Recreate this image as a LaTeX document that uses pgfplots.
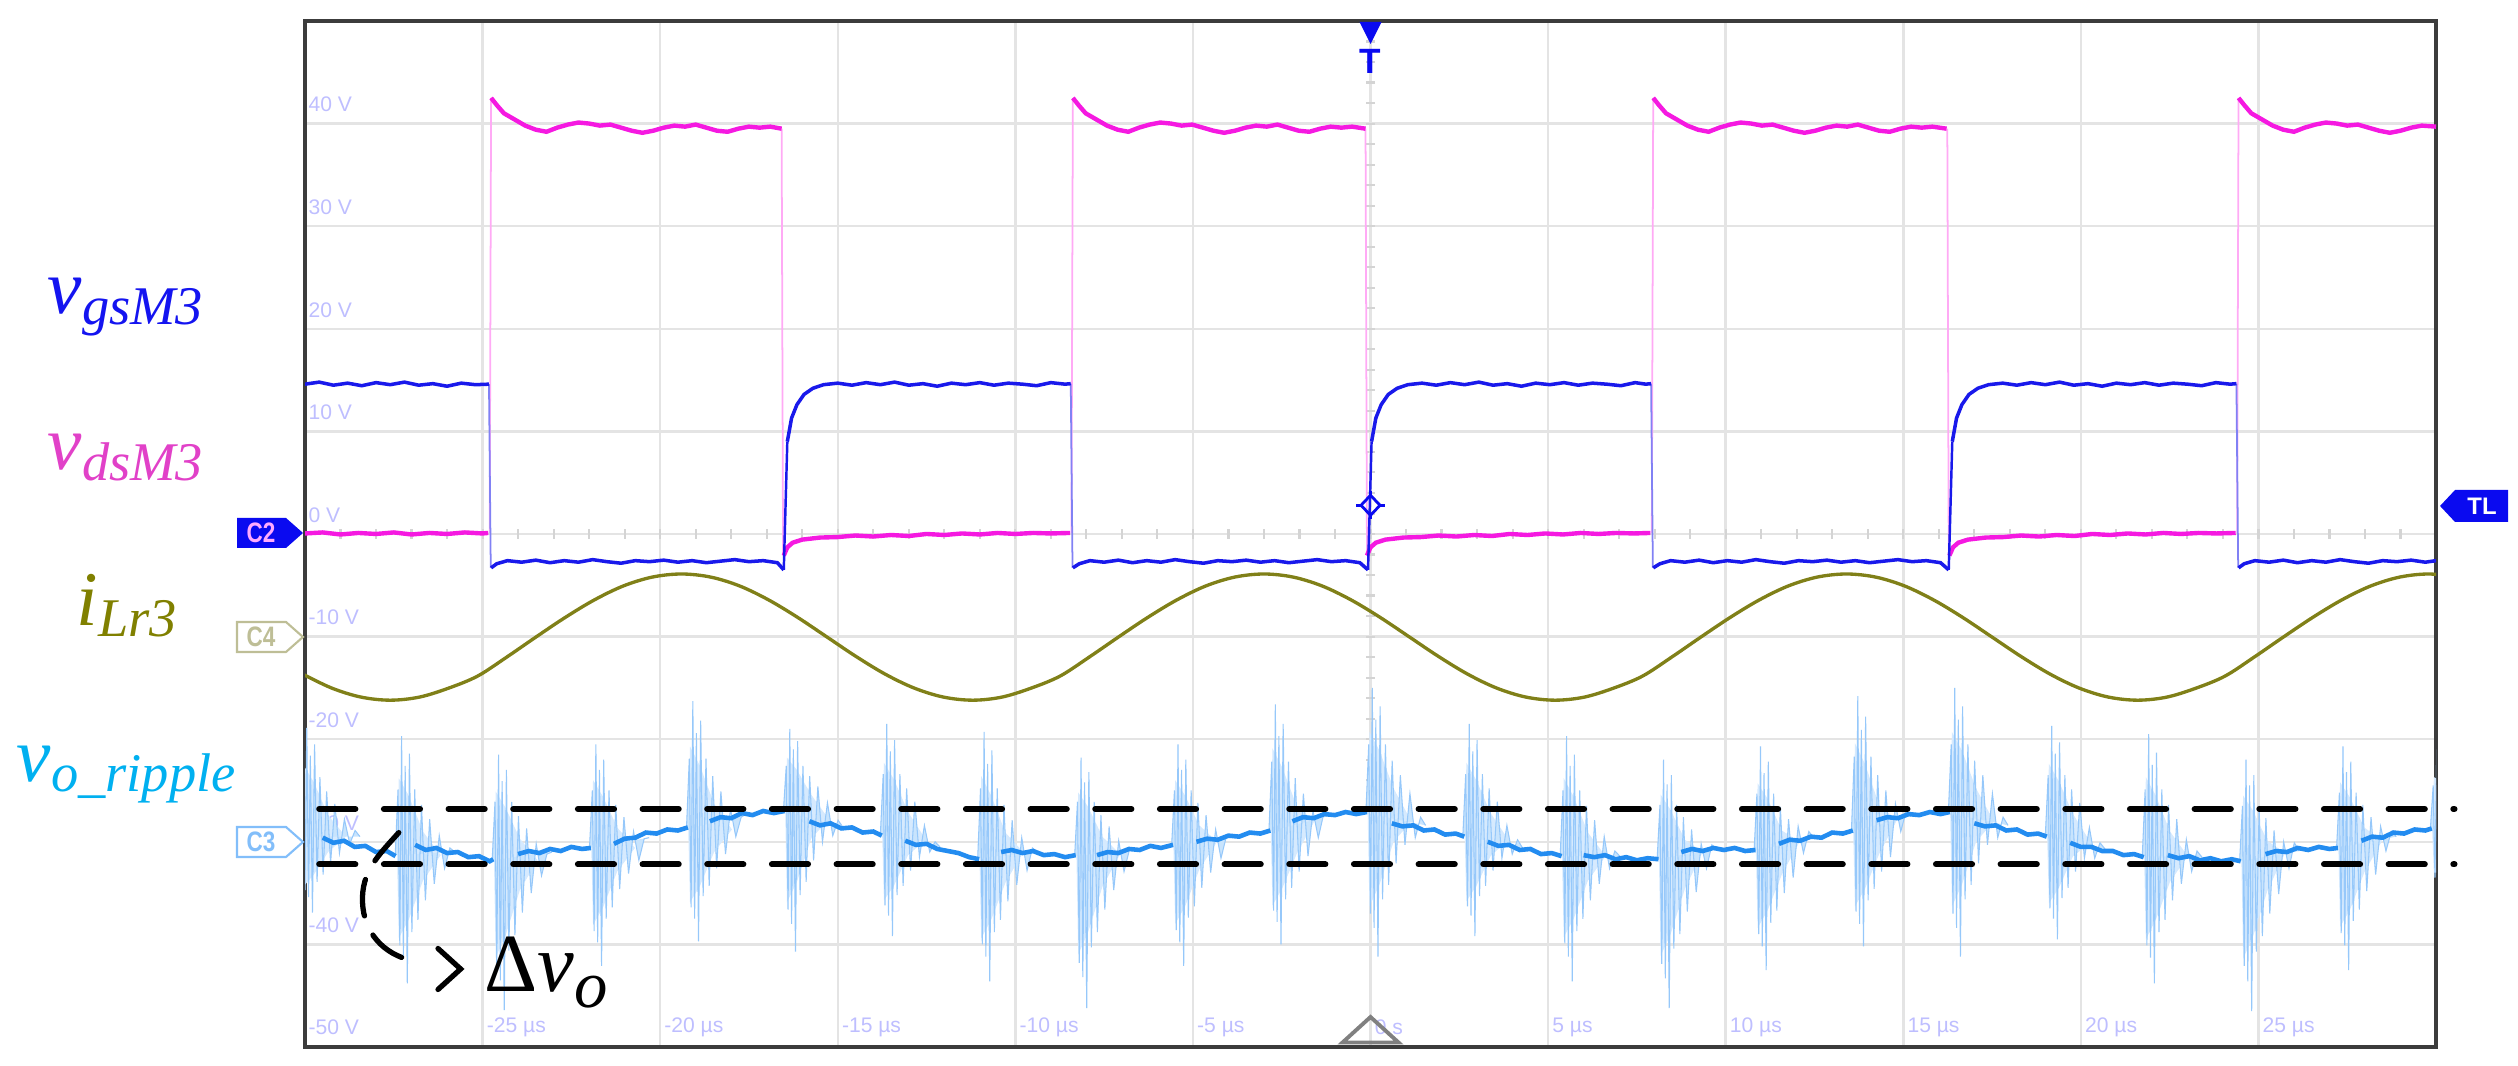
\documentclass[border=0pt]{standalone}
\usepackage{fontspec}
\setmainfont{Liberation Serif}
\newfontfamily\timesfont{Liberation Serif}
\newfontfamily\scopesans{Liberation Sans}
\usepackage{pgfplots}
\pgfplotsset{compat=1.18}
\usetikzlibrary{arrows.meta}
\definecolor{trblue}{RGB}{25,25,235}
\definecolor{trpink}{RGB}{245,25,225}
\definecolor{pinkedge}{RGB}{255,170,245}
\definecolor{trolive}{RGB}{128,128,24}
\definecolor{trcyan}{RGB}{35,140,240}
\definecolor{trcyanlt}{RGB}{150,200,250}
\definecolor{trcyanfill}{RGB}{200,228,253}
\definecolor{trcyanenv}{RGB}{214,234,254}
\definecolor{gridgray}{RGB}{228,228,228}
\definecolor{tickgray}{RGB}{212,212,212}
\definecolor{framegray}{RGB}{60,60,60}
\definecolor{labgray}{RGB}{190,190,255}
\definecolor{labblue}{RGB}{20,20,240}
\definecolor{labpink}{RGB}{225,65,200}
\definecolor{labolive}{RGB}{128,128,0}
\definecolor{labcyan}{RGB}{0,176,240}
\definecolor{markblue}{RGB}{10,10,240}
\definecolor{cfourcol}{RGB}{190,190,150}
\definecolor{cthreecol}{RGB}{130,190,250}
\definecolor{trigray}{RGB}{128,128,128}
\tikzset{
  slab/.style={anchor=west, inner sep=0pt, text=labgray, font=\scopesans\fontsize{6}{7}\selectfont},
  burst/.style={draw=trcyanlt, fill=trcyanfill, line width=0.3pt},
  env/.style={draw=none, fill=trcyanenv},
}
\begin{document}
\begin{tikzpicture}
\path[use as bounding box] (-3.05,-0.19) rectangle (22.13,10.47);
\begin{axis}[
  at={(0,0)}, anchor=south west, scale only axis,
  width=21.31cm, height=10.26cm,
  xmin=-30, xmax=30, ymin=-50, ymax=50,
  xtick={-30,-25,...,30}, ytick={-50,-40,...,50},
  xticklabels={}, yticklabels={},
  tick style={draw=none},
  grid=major,
  major grid style={line width=0.7pt, draw=gridgray},
  axis line style={line width=0.9pt, draw=framegray},
  unbounded coords=jump,
  clip mode=individual,
]
% centre-line ticks
\pgfplotsinvokeforeach{-29,...,29}{\draw[tickgray, line width=0.6pt] (axis cs:#1,-0.45) -- (axis cs:#1,0.45);}
\pgfplotsinvokeforeach{-24,-22,...,48}{\draw[tickgray, line width=0.6pt] (axis cs:-0.12,#1) -- (axis cs:0.12,#1);}
% scope labels
\node[slab] at (axis cs:-29.92,41.85) {40 V};
\node[slab] at (axis cs:-29.92,31.85) {30 V};
\node[slab] at (axis cs:-29.92,21.85) {20 V};
\node[slab] at (axis cs:-29.92,11.85) {10 V};
\node[slab] at (axis cs:-29.92,1.85) {0 V};
\node[slab] at (axis cs:-29.92,-8.15) {-10 V};
\node[slab] at (axis cs:-29.92,-18.15) {-20 V};
\node[slab] at (axis cs:-29.92,-28.15) {-30 V};
\node[slab] at (axis cs:-29.92,-38.15) {-40 V};
\node[slab] at (axis cs:-29.92,-48.05) {-50 V};
\node[slab] at (axis cs:-24.9,-48.05) {-25 µs};
\node[slab] at (axis cs:-19.9,-48.05) {-20 µs};
\node[slab] at (axis cs:-14.9,-48.05) {-15 µs};
\node[slab] at (axis cs:-9.9,-48.05) {-10 µs};
\node[slab] at (axis cs:-4.9,-48.05) {-5 µs};
\node[slab] at (axis cs:0.1,-48.05) {0 s};
\node[slab] at (axis cs:5.1,-48.05) {5 µs};
\node[slab] at (axis cs:10.1,-48.05) {10 µs};
\node[slab] at (axis cs:15.1,-48.05) {15 µs};
\node[slab] at (axis cs:20.1,-48.05) {20 µs};
\node[slab] at (axis cs:25.1,-48.05) {25 µs};

% ---------- C3: dense core of each ringing burst ----------
\addplot[env] coordinates {(-30.08,-29.5) (-30.03,-22.6) (-29.75,-24.2) (-29.35,-27.4) (-28.85,-29.5) (-29.35,-31.0) (-29.75,-33.2) (-30.03,-34.3)};
\addplot[env] coordinates {(-27.41,-31.3) (-27.36,-23.8) (-27.08,-25.5) (-26.68,-29.0) (-26.18,-31.3) (-26.68,-33.8) (-27.08,-37.6) (-27.36,-39.4)};
\addplot[env] coordinates {(-24.68,-31.8) (-24.63,-25.1) (-24.35,-26.7) (-23.95,-29.7) (-23.45,-31.8) (-23.95,-34.7) (-24.35,-39.1) (-24.63,-41.3)};
\addplot[env] coordinates {(-21.94,-30.6) (-21.89,-24.0) (-21.61,-25.6) (-21.21,-28.6) (-20.71,-30.6) (-21.21,-32.9) (-21.61,-36.4) (-21.89,-38.1)};
\addplot[env] coordinates {(-19.21,-28.8) (-19.16,-20.7) (-18.88,-22.6) (-18.48,-26.3) (-17.98,-28.8) (-18.48,-31.0) (-18.88,-34.3) (-19.16,-35.9)};
\addplot[env] coordinates {(-16.48,-27.0) (-16.43,-21.8) (-16.15,-23.0) (-15.75,-25.4) (-15.25,-27.8) (-15.75,-29.7) (-16.15,-33.9) (-16.43,-35.9)};
\addplot[env] coordinates {(-13.75,-29.3) (-13.70,-22.3) (-13.42,-23.9) (-13.02,-27.1) (-12.52,-29.8) (-13.02,-31.3) (-13.42,-34.3) (-13.70,-35.7)};
\addplot[env] coordinates {(-11.01,-31.6) (-10.96,-23.6) (-10.68,-25.5) (-10.28,-29.1) (-9.78,-31.0) (-10.28,-34.0) (-10.68,-37.6) (-10.96,-39.4)};
\addplot[env] coordinates {(-8.28,-31.4) (-8.23,-25.2) (-7.95,-26.6) (-7.55,-29.5) (-7.05,-31.2) (-7.55,-34.4) (-7.95,-38.8) (-8.23,-41.0)};
\addplot[env] coordinates {(-5.55,-30.4) (-5.50,-24.0) (-5.22,-25.5) (-4.82,-28.4) (-4.32,-30.0) (-4.82,-32.7) (-5.22,-36.3) (-5.50,-38.0)};
\addplot[env] coordinates {(-2.81,-29.0) (-2.76,-20.9) (-2.48,-22.8) (-2.08,-26.5) (-1.58,-28.0) (-2.08,-31.2) (-2.48,-34.5) (-2.76,-36.2)};
\addplot[env] coordinates {(-0.08,-27.2) (-0.03,-19.3) (0.25,-21.1) (0.65,-24.8) (1.15,-28.0) (0.65,-30.0) (0.25,-34.2) (-0.03,-36.3)};
\addplot[env] coordinates {(2.65,-29.4) (2.70,-22.3) (2.98,-24.0) (3.38,-27.2) (3.88,-29.8) (3.38,-31.4) (2.98,-34.3) (2.70,-35.8)};
\addplot[env] coordinates {(5.39,-31.4) (5.44,-23.8) (5.72,-25.6) (6.12,-29.1) (6.62,-31.4) (6.12,-33.8) (5.72,-37.5) (5.44,-39.3)};
\addplot[env] coordinates {(8.12,-31.7) (8.17,-25.4) (8.45,-26.9) (8.85,-29.8) (9.35,-31.0) (8.85,-34.6) (8.45,-39.0) (8.17,-41.1)};
\addplot[env] coordinates {(10.85,-30.9) (10.90,-24.3) (11.18,-25.8) (11.58,-28.9) (12.08,-30.0) (11.58,-33.2) (11.18,-36.7) (10.90,-38.4)};
\addplot[env] coordinates {(13.59,-29.0) (13.64,-20.4) (13.92,-22.4) (14.32,-26.4) (14.82,-27.9) (14.32,-31.2) (13.92,-34.6) (13.64,-36.3)};
\addplot[env] coordinates {(16.32,-27.2) (16.37,-19.3) (16.65,-21.1) (17.05,-24.8) (17.55,-28.0) (17.05,-30.0) (16.65,-34.2) (16.37,-36.3)};
\addplot[env] coordinates {(19.05,-29.4) (19.10,-22.4) (19.38,-24.1) (19.78,-27.3) (20.28,-30.1) (19.78,-31.4) (19.38,-34.5) (19.10,-36.0)};
\addplot[env] coordinates {(21.78,-31.4) (21.83,-23.7) (22.11,-25.5) (22.51,-29.0) (23.01,-31.4) (22.51,-33.9) (22.11,-37.6) (21.83,-39.5)};
\addplot[env] coordinates {(24.52,-31.9) (24.57,-25.5) (24.85,-27.0) (25.25,-29.9) (25.75,-31.1) (25.25,-34.8) (24.85,-39.2) (24.57,-41.4)};
\addplot[env] coordinates {(27.25,-30.6) (27.30,-24.2) (27.58,-25.7) (27.98,-28.6) (28.48,-29.9) (27.98,-33.0) (27.58,-36.6) (27.30,-38.3)};
\addplot[env] coordinates {(29.89,-28.8) (29.94,-23.7) (30.1,-24.0) (30.1,-33.0) (29.94,-33.0)};

% ---------- C3: output ripple, ringing bursts ----------
\addplot[burst] coordinates {(-30.13,-29.5) (-30.05,-23.7) (-30.00,-34.7) (-29.95,-18.9) (-29.90,-35.4) (-29.85,-21.6) (-29.79,-36.9) (-29.73,-20.5) (-29.66,-33.9) (-29.58,-23.7) (-29.49,-33.2) (-29.39,-25.1) (-29.28,-32.1) (-29.16,-26.3) (-29.03,-31.1) (-28.89,-27.8) (-28.74,-30.2) (-28.59,-28.9) (-28.45,-29.5)};
\addplot[burst] coordinates {(-27.46,-31.3) (-27.38,-24.9) (-27.33,-40.1) (-27.28,-19.7) (-27.23,-41.3) (-27.18,-22.6) (-27.12,-43.8) (-27.06,-21.4) (-26.99,-38.8) (-26.91,-24.9) (-26.82,-37.6) (-26.72,-26.4) (-26.61,-35.7) (-26.49,-27.8) (-26.36,-34.1) (-26.22,-29.4) (-26.07,-32.6) (-25.92,-30.6) (-25.78,-31.0)};
\addplot[burst] coordinates {(-24.73,-31.8) (-24.65,-26.1) (-24.60,-42.0) (-24.55,-21.5) (-24.50,-43.5) (-24.45,-24.1) (-24.39,-46.4) (-24.33,-23.0) (-24.26,-40.6) (-24.18,-26.1) (-24.09,-39.1) (-23.99,-27.5) (-23.88,-36.9) (-23.76,-28.7) (-23.63,-35.0) (-23.49,-30.2) (-23.34,-33.3) (-23.19,-31.2) (-23.05,-31.0)};
\addplot[burst] coordinates {(-21.99,-30.6) (-21.91,-25.0) (-21.86,-38.7) (-21.81,-20.5) (-21.76,-39.8) (-21.71,-23.0) (-21.65,-42.1) (-21.59,-22.0) (-21.52,-37.5) (-21.44,-25.0) (-21.35,-36.4) (-21.25,-26.4) (-21.14,-34.6) (-21.02,-27.6) (-20.89,-33.1) (-20.75,-29.0) (-20.60,-31.8) (-20.45,-29.7) (-20.31,-29.6)};
\addplot[burst] coordinates {(-19.26,-28.8) (-19.18,-21.9) (-19.13,-36.4) (-19.08,-16.3) (-19.03,-37.5) (-18.98,-19.4) (-18.92,-39.7) (-18.86,-18.2) (-18.79,-35.3) (-18.71,-21.9) (-18.62,-34.3) (-18.52,-23.6) (-18.41,-32.6) (-18.29,-25.1) (-18.16,-31.2) (-18.02,-26.8) (-17.87,-29.5) (-17.72,-27.6) (-17.58,-27.3)};
\addplot[burst] coordinates {(-16.53,-27.0) (-16.45,-22.6) (-16.40,-36.6) (-16.35,-19.0) (-16.30,-38.0) (-16.25,-21.0) (-16.19,-40.7) (-16.13,-20.2) (-16.06,-35.2) (-15.98,-22.6) (-15.89,-33.9) (-15.79,-23.6) (-15.68,-31.8) (-15.56,-24.6) (-15.43,-30.0) (-15.29,-26.2) (-15.14,-29.4) (-14.99,-27.9) (-14.85,-28.6)};
\addplot[burst] coordinates {(-13.80,-29.3) (-13.72,-23.4) (-13.67,-36.2) (-13.62,-18.5) (-13.57,-37.2) (-13.52,-21.2) (-13.46,-39.2) (-13.40,-20.1) (-13.33,-35.2) (-13.25,-23.4) (-13.16,-34.3) (-13.06,-24.8) (-12.95,-32.8) (-12.83,-26.1) (-12.70,-31.5) (-12.56,-28.4) (-12.41,-31.0) (-12.26,-30.0) (-12.12,-30.5)};
\addplot[burst] coordinates {(-11.06,-31.6) (-10.98,-24.8) (-10.93,-40.0) (-10.88,-19.3) (-10.83,-41.2) (-10.78,-22.4) (-10.72,-43.6) (-10.66,-21.1) (-10.59,-38.8) (-10.51,-24.8) (-10.42,-37.6) (-10.32,-26.4) (-10.21,-35.8) (-10.09,-27.9) (-9.96,-34.2) (-9.82,-29.6) (-9.67,-32.8) (-9.52,-30.6) (-9.38,-31.0)};
\addplot[burst] coordinates {(-8.33,-31.4) (-8.25,-26.1) (-8.20,-41.8) (-8.15,-21.8) (-8.10,-43.2) (-8.05,-24.2) (-7.99,-46.2) (-7.93,-23.2) (-7.86,-40.3) (-7.78,-26.1) (-7.69,-38.8) (-7.59,-27.4) (-7.48,-36.6) (-7.36,-28.5) (-7.23,-34.7) (-7.09,-29.9) (-6.94,-32.9) (-6.79,-30.8) (-6.65,-30.8)};
\addplot[burst] coordinates {(-5.60,-30.4) (-5.52,-25.0) (-5.47,-38.6) (-5.42,-20.5) (-5.37,-39.8) (-5.32,-23.0) (-5.26,-42.1) (-5.20,-22.0) (-5.13,-37.4) (-5.05,-25.0) (-4.96,-36.3) (-4.86,-26.2) (-4.75,-34.5) (-4.63,-27.4) (-4.50,-33.0) (-4.36,-28.8) (-4.21,-31.6) (-4.06,-29.5) (-3.92,-29.6)};
\addplot[burst] coordinates {(-2.86,-29.0) (-2.78,-22.2) (-2.73,-36.7) (-2.68,-16.6) (-2.63,-37.8) (-2.58,-19.7) (-2.52,-40.0) (-2.46,-18.5) (-2.39,-35.6) (-2.31,-22.2) (-2.22,-34.5) (-2.12,-23.8) (-2.01,-32.9) (-1.89,-25.3) (-1.76,-31.4) (-1.62,-27.0) (-1.47,-29.6) (-1.32,-27.3) (-1.18,-27.5)};
\addplot[burst] coordinates {(-0.13,-27.2) (-0.05,-20.5) (0.00,-37.0) (0.05,-15.0) (0.10,-38.4) (0.15,-18.1) (0.21,-41.2) (0.27,-16.8) (0.34,-35.6) (0.42,-20.5) (0.51,-34.2) (0.61,-22.1) (0.72,-32.1) (0.84,-23.5) (0.97,-30.3) (1.11,-25.3) (1.26,-29.6) (1.41,-27.6) (1.55,-28.4)};
\addplot[burst] coordinates {(2.60,-29.4) (2.68,-23.4) (2.73,-36.3) (2.78,-18.5) (2.83,-37.2) (2.88,-21.2) (2.94,-39.2) (3.00,-20.1) (3.07,-35.3) (3.15,-23.4) (3.24,-34.3) (3.34,-24.8) (3.45,-32.8) (3.57,-26.1) (3.70,-31.6) (3.84,-28.4) (3.99,-31.2) (4.14,-29.8) (4.28,-30.6)};
\addplot[burst] coordinates {(5.34,-31.4) (5.42,-25.0) (5.47,-39.9) (5.52,-19.7) (5.57,-41.2) (5.62,-22.6) (5.68,-43.6) (5.74,-21.5) (5.81,-38.7) (5.89,-25.0) (5.98,-37.5) (6.08,-26.5) (6.19,-35.7) (6.31,-27.9) (6.44,-34.1) (6.58,-29.5) (6.73,-32.6) (6.88,-30.9) (7.02,-31.4)};
\addplot[burst] coordinates {(8.07,-31.7) (8.15,-26.4) (8.20,-41.9) (8.25,-22.0) (8.30,-43.3) (8.35,-24.4) (8.41,-46.2) (8.47,-23.5) (8.54,-40.4) (8.62,-26.4) (8.71,-39.0) (8.81,-27.6) (8.92,-36.8) (9.04,-28.8) (9.17,-34.9) (9.31,-30.2) (9.46,-32.6) (9.61,-30.3) (9.75,-30.7)};
\addplot[burst] coordinates {(10.80,-30.9) (10.88,-25.3) (10.93,-39.0) (10.98,-20.7) (11.03,-40.2) (11.08,-23.3) (11.14,-42.5) (11.20,-22.2) (11.27,-37.9) (11.35,-25.3) (11.44,-36.7) (11.54,-26.6) (11.65,-35.0) (11.77,-27.8) (11.90,-33.5) (12.04,-28.5) (12.19,-31.1) (12.34,-29.0) (12.48,-29.6)};
\addplot[burst] coordinates {(13.54,-29.0) (13.62,-21.7) (13.67,-36.8) (13.72,-15.8) (13.77,-38.0) (13.82,-19.1) (13.88,-40.2) (13.94,-17.8) (14.01,-35.7) (14.09,-21.7) (14.18,-34.6) (14.28,-23.5) (14.39,-32.9) (14.51,-25.0) (14.64,-31.5) (14.78,-26.3) (14.93,-29.0) (15.08,-27.0) (15.22,-27.5)};
\addplot[burst] coordinates {(16.27,-27.2) (16.35,-20.5) (16.40,-37.0) (16.45,-15.0) (16.50,-38.4) (16.55,-18.1) (16.61,-41.2) (16.67,-16.8) (16.74,-35.6) (16.82,-20.5) (16.91,-34.2) (17.01,-22.1) (17.12,-32.1) (17.24,-23.5) (17.37,-30.3) (17.51,-25.3) (17.66,-29.6) (17.81,-27.6) (17.95,-28.4)};
\addplot[burst] coordinates {(19.00,-29.4) (19.08,-23.5) (19.13,-36.5) (19.18,-18.7) (19.23,-37.5) (19.28,-21.4) (19.34,-39.5) (19.40,-20.3) (19.47,-35.5) (19.55,-23.5) (19.64,-34.5) (19.74,-24.9) (19.85,-32.9) (19.97,-26.2) (20.10,-31.6) (20.24,-28.6) (20.39,-31.6) (20.54,-30.1) (20.68,-30.7)};
\addplot[burst] coordinates {(21.73,-31.4) (21.81,-24.9) (21.86,-40.1) (21.91,-19.5) (21.96,-41.3) (22.01,-22.5) (22.07,-43.8) (22.13,-21.3) (22.20,-38.8) (22.28,-24.9) (22.37,-37.6) (22.47,-26.4) (22.58,-35.7) (22.70,-27.8) (22.83,-34.1) (22.97,-29.8) (23.12,-32.9) (23.27,-30.9) (23.41,-31.5)};
\addplot[burst] coordinates {(24.47,-31.9) (24.55,-26.5) (24.60,-42.1) (24.65,-22.0) (24.70,-43.6) (24.75,-24.5) (24.81,-46.5) (24.87,-23.5) (24.94,-40.7) (25.02,-26.5) (25.11,-39.2) (25.21,-27.7) (25.32,-37.0) (25.44,-28.9) (25.57,-35.1) (25.71,-30.0) (25.86,-32.6) (26.01,-30.1) (26.15,-30.9)};
\addplot[burst] coordinates {(27.20,-30.6) (27.28,-25.2) (27.33,-38.9) (27.38,-20.7) (27.43,-40.1) (27.48,-23.2) (27.54,-42.5) (27.60,-22.2) (27.67,-37.7) (27.75,-25.2) (27.84,-36.6) (27.94,-26.4) (28.05,-34.8) (28.17,-27.6) (28.30,-33.2) (28.44,-28.5) (28.59,-30.9) (28.74,-29.0) (28.88,-29.5)};
\addplot[burst] coordinates {(29.84,-28.8) (29.92,-24.5) (29.97,-33.5) (30.02,-21.0) (30.07,-35.0) (30.12,-28.8)};

% ---------- C3: output ripple, slow component ----------
\addplot[trcyan, line width=1.3pt] coordinates {
(-29.5,-29.6) (-29.2,-30.1) (-28.9,-29.9) (-28.6,-30.5) (-28.3,-30.4) (-28.0,-31.0) (-27.7,-30.9) (-27.45,-31.4) (-27.4,nan)
(-26.9,-30.3) (-26.6,-30.8) (-26.3,-30.6) (-26.0,-31.1) (-25.7,-31.0) (-25.4,-31.5) (-25.1,-31.4) (-24.8,-31.9) (-24.7,-31.7) (-24.65,nan)
(-24.0,-31.2) (-23.7,-30.9) (-23.4,-31.1) (-23.1,-30.7) (-22.8,-30.9) (-22.5,-30.5) (-22.2,-30.7) (-21.95,-30.6) (-21.9,nan)
(-21.3,-30.2) (-21.0,-29.7) (-20.7,-29.6) (-20.4,-29.1) (-20.1,-29.2) (-19.8,-28.8) (-19.5,-28.9) (-19.22,-28.6) (-19.2,nan)
(-18.6,-28.0) (-18.3,-27.6) (-18.0,-27.7) (-17.7,-27.2) (-17.4,-27.4) (-17.1,-27.0) (-16.8,-27.2) (-16.5,-27.0) (-16.45,nan)
(-15.8,-28.0) (-15.5,-28.4) (-15.2,-28.2) (-14.9,-28.7) (-14.6,-28.6) (-14.3,-29.1) (-14.0,-29.0) (-13.76,-29.4) (-13.7,nan)
(-13.1,-29.9) (-12.8,-30.3) (-12.5,-30.2) (-12.2,-30.7) (-11.9,-30.9) (-11.6,-31.1) (-11.3,-31.5) (-11.02,-31.7) (-11.0,nan)
(-10.4,-31.0) (-10.1,-30.8) (-9.8,-31.1) (-9.5,-30.9) (-9.2,-31.3) (-8.9,-31.2) (-8.6,-31.5) (-8.3,-31.3) (-8.25,nan)
(-7.7,-31.3) (-7.4,-31.0) (-7.1,-31.1) (-6.8,-30.7) (-6.5,-30.8) (-6.2,-30.4) (-5.9,-30.6) (-5.56,-30.3) (-5.5,nan)
(-4.9,-30.0) (-4.6,-29.7) (-4.3,-29.8) (-4.0,-29.4) (-3.7,-29.5) (-3.4,-29.1) (-3.1,-29.2) (-2.82,-28.9) (-2.8,nan)
(-2.2,-28.0) (-1.9,-27.6) (-1.6,-27.7) (-1.3,-27.3) (-1.0,-27.4) (-0.7,-27.1) (-0.4,-27.3) (-0.1,-27.1) (-0.05,nan)
(0.6,-28.2) (0.9,-28.5) (1.2,-28.4) (1.5,-28.9) (1.8,-28.8) (2.1,-29.3) (2.4,-29.2) (2.64,-29.5) (2.7,nan)
(3.3,-30.0) (3.6,-30.4) (3.9,-30.3) (4.2,-30.8) (4.5,-30.7) (4.8,-31.2) (5.1,-31.1) (5.38,-31.4) (5.4,nan)
(6.0,-31.3) (6.3,-31.5) (6.6,-31.3) (6.9,-31.7) (7.2,-31.5) (7.5,-31.8) (7.8,-31.6) (8.11,-31.7) (8.15,nan)
(8.75,-31.0) (9.05,-30.7) (9.35,-30.9) (9.65,-30.6) (9.95,-30.8) (10.25,-30.6) (10.55,-30.9) (10.84,-30.8) (10.9,nan)
(11.5,-30.2) (11.8,-29.8) (12.1,-29.9) (12.4,-29.5) (12.7,-29.6) (13.0,-29.1) (13.3,-29.2) (13.58,-28.9) (13.6,nan)
(14.25,-27.9) (14.55,-27.6) (14.85,-27.7) (15.15,-27.3) (15.45,-27.4) (15.75,-27.1) (16.05,-27.3) (16.31,-27.1) (16.35,nan)
(17.0,-28.2) (17.3,-28.5) (17.6,-28.4) (17.9,-28.9) (18.2,-28.8) (18.5,-29.3) (18.8,-29.2) (19.04,-29.5) (19.1,nan)
(19.7,-30.1) (20.0,-30.5) (20.3,-30.5) (20.6,-30.9) (20.9,-30.9) (21.2,-31.3) (21.5,-31.2) (21.77,-31.5) (21.8,nan)
(22.45,-31.3) (22.75,-31.6) (23.05,-31.4) (23.35,-31.8) (23.65,-31.6) (23.95,-31.9) (24.25,-31.7) (24.5,-31.9) (24.55,nan)
(25.2,-31.2) (25.5,-30.9) (25.8,-31.0) (26.1,-30.6) (26.4,-30.8) (26.7,-30.5) (27.0,-30.7) (27.24,-30.6) (27.3,nan)
(27.9,-29.9) (28.2,-29.5) (28.5,-29.6) (28.8,-29.1) (29.1,-29.2) (29.4,-28.8) (29.7,-28.9) (29.88,-28.7)
};

% ---------- C4: resonant current ----------
\addplot[trolive, line width=0.95pt, smooth, tension=0.55] coordinates {
(-30.06,-13.67) (-29.24,-15.03) (-28.42,-15.90) (-27.60,-16.20) (-26.78,-15.90) (-25.96,-15.03) (-25.14,-13.85) (-24.32,-12.0) (-23.50,-10.05) (-22.68,-8.15) (-21.86,-6.44) (-21.04,-5.07) (-20.22,-4.20) (-19.40,-3.90) (-18.58,-4.20) (-17.76,-5.07) (-16.94,-6.44) (-16.12,-8.15) (-15.30,-10.05) (-14.48,-11.95) (-13.66,-13.67) (-12.84,-15.03) (-12.02,-15.90) (-11.20,-16.20) (-10.38,-15.90) (-9.56,-15.03) (-8.74,-13.85) (-7.92,-12.0) (-7.10,-10.05) (-6.28,-8.15) (-5.46,-6.44) (-4.64,-5.07) (-3.82,-4.20) (-3.00,-3.90) (-2.18,-4.20) (-1.36,-5.07) (-0.54,-6.44) (0.28,-8.15) (1.10,-10.05) (1.92,-11.95) (2.74,-13.67) (3.56,-15.03) (4.38,-15.90) (5.20,-16.20) (6.02,-15.90) (6.84,-15.03) (7.66,-13.85) (8.48,-12.0) (9.30,-10.05) (10.12,-8.15) (10.94,-6.44) (11.76,-5.07) (12.58,-4.20) (13.40,-3.90) (14.22,-4.20) (15.04,-5.07) (15.86,-6.44) (16.68,-8.15) (17.50,-10.05) (18.32,-11.95) (19.14,-13.67) (19.96,-15.03) (20.78,-15.90) (21.60,-16.20) (22.42,-15.90) (23.24,-15.03) (24.06,-13.85) (24.88,-12.0) (25.70,-10.05) (26.52,-8.15) (27.34,-6.44) (28.16,-5.07) (28.98,-4.20) (29.80,-3.90) (30.62,-4.20)
};

% ---------- C2: drain-source voltage ----------
\addplot[pinkedge, line width=0.5pt] coordinates {(-24.80,0.1) (-24.76,42.5) (-24.7,nan) (-16.58,39.5) (-16.54,-2.1) (-16.5,nan) (-8.42,0.1) (-8.38,42.5) (-8.3,nan) (-0.14,39.5) (-0.10,-2.1) (-0.05,nan) (7.92,0.1) (7.96,42.5) (8.0,nan) (16.24,39.5) (16.28,-2.1) (16.3,nan) (24.40,0.1) (24.44,42.5)};
\addplot[trpink, line width=1.25pt] coordinates {
(-30.0,0.05) (-29.5,0.15) (-29.0,-0.05) (-28.5,0.1) (-28.0,0.0) (-27.5,0.15) (-27.0,-0.05) (-26.5,0.1) (-26.0,0.0) (-25.5,0.15) (-25.0,0.05) (-24.84,0.1) (-24.8,nan)
(-24.76,42.5) (-24.6,41.8) (-24.4,41.0) (-24.1,40.4) (-23.8,39.8) (-23.5,39.4) (-23.2,39.2) (-22.9,39.6) (-22.6,39.9) (-22.3,40.1) (-22.0,40.0) (-21.7,39.8) (-21.4,39.9) (-21.1,39.6) (-20.8,39.3) (-20.5,39.1) (-20.2,39.3) (-19.9,39.6) (-19.6,39.8) (-19.3,39.7) (-19.0,39.9) (-18.7,39.6) (-18.4,39.3) (-18.1,39.2) (-17.8,39.5) (-17.5,39.7) (-17.2,39.6) (-16.9,39.7) (-16.58,39.5) (-16.55,nan)
(-16.52,-2.1) (-16.42,-1.3) (-16.27,-0.85) (-16.0,-0.55) (-15.5,-0.35) (-15.0,-0.3) (-14.5,-0.15) (-14.0,-0.25) (-13.5,-0.1) (-13.0,-0.2) (-12.5,0.0) (-12.0,-0.1) (-11.5,0.05) (-11.0,-0.05) (-10.5,0.1) (-10.0,0.0) (-9.5,0.1) (-9.0,0.05) (-8.46,0.1) (-8.4,nan)
(-8.38,42.5) (-8.22,41.8) (-8.02,41.0) (-7.72,40.4) (-7.42,39.8) (-7.12,39.4) (-6.82,39.2) (-6.52,39.6) (-6.22,39.9) (-5.92,40.1) (-5.62,40.0) (-5.32,39.8) (-5.02,39.9) (-4.72,39.6) (-4.42,39.3) (-4.12,39.1) (-3.82,39.3) (-3.52,39.6) (-3.22,39.8) (-2.92,39.7) (-2.62,39.9) (-2.32,39.6) (-2.02,39.3) (-1.72,39.2) (-1.42,39.5) (-1.12,39.7) (-0.82,39.6) (-0.52,39.7) (-0.14,39.5) (-0.12,nan)
(-0.10,-2.1) (0.0,-1.3) (0.15,-0.85) (0.42,-0.55) (0.92,-0.35) (1.42,-0.3) (1.92,-0.15) (2.42,-0.25) (2.92,-0.1) (3.42,-0.2) (3.92,0.0) (4.42,-0.1) (4.92,0.05) (5.42,-0.05) (5.92,0.1) (6.42,0.0) (6.92,0.1) (7.42,0.05) (7.88,0.1) (7.92,nan)
(7.96,42.5) (8.12,41.8) (8.32,41.0) (8.62,40.4) (8.92,39.8) (9.22,39.4) (9.52,39.2) (9.82,39.6) (10.12,39.9) (10.42,40.1) (10.72,40.0) (11.02,39.8) (11.32,39.9) (11.62,39.6) (11.92,39.3) (12.22,39.1) (12.52,39.3) (12.82,39.6) (13.12,39.8) (13.42,39.7) (13.72,39.9) (14.02,39.6) (14.32,39.3) (14.62,39.2) (14.92,39.5) (15.22,39.7) (15.52,39.6) (15.82,39.7) (16.22,39.5) (16.25,nan)
(16.30,-2.1) (16.40,-1.3) (16.55,-0.85) (16.82,-0.55) (17.32,-0.35) (17.82,-0.3) (18.32,-0.15) (18.82,-0.25) (19.32,-0.1) (19.82,-0.2) (20.32,0.0) (20.82,-0.1) (21.32,0.05) (21.82,-0.05) (22.32,0.1) (22.82,0.0) (23.32,0.1) (23.82,0.05) (24.36,0.1) (24.4,nan)
(24.44,42.5) (24.6,41.8) (24.8,41.0) (25.1,40.4) (25.4,39.8) (25.7,39.4) (26.0,39.2) (26.3,39.6) (26.6,39.9) (26.9,40.1) (27.2,40.0) (27.5,39.8) (27.8,39.9) (28.1,39.6) (28.4,39.3) (28.7,39.1) (29.0,39.3) (29.3,39.6) (29.6,39.8) (30.0,39.7)
};

% ---------- C1: gate-source voltage ----------
\addplot[trblue!55, line width=0.5pt] coordinates {(-24.82,14.6) (-24.77,-3.3) (-24.7,nan) (-8.44,14.65) (-8.39,-3.3) (-8.3,nan) (7.9,14.65) (7.95,-3.3) (8.0,nan) (24.38,14.65) (24.43,-3.3)};
\addplot[trblue, line width=0.7pt] coordinates {(-16.52,-3.5) (-16.42,9.0) (-16.4,nan) (-0.07,-3.5) (0.03,9.0) (0.05,nan) (16.28,-3.5) (16.38,9.0)};
\addplot[trblue, line width=1.0pt] coordinates {
(-30.0,14.6) (-29.6,14.8) (-29.2,14.5) (-28.8,14.7) (-28.4,14.45) (-28.0,14.75) (-27.6,14.55) (-27.2,14.8) (-26.8,14.5) (-26.4,14.65) (-26.0,14.4) (-25.6,14.7) (-25.2,14.55) (-24.82,14.6) (-24.8,nan)
(-24.76,-3.3) (-24.6,-2.9) (-24.3,-2.6) (-23.9,-2.75) (-23.5,-2.55) (-23.1,-2.8) (-22.7,-2.6) (-22.3,-2.75) (-21.9,-2.5) (-21.5,-2.7) (-21.1,-2.85) (-20.7,-2.6) (-20.3,-2.7) (-19.9,-2.55) (-19.5,-2.75) (-19.1,-2.6) (-18.7,-2.8) (-18.3,-2.65) (-17.9,-2.5) (-17.5,-2.7) (-17.1,-2.6) (-16.7,-2.8) (-16.52,-3.5) (-16.47,nan)
(-16.42,9.0) (-16.3,11.3) (-16.15,12.6) (-15.95,13.6) (-15.7,14.2) (-15.4,14.55) (-15.0,14.7) (-14.6,14.5) (-14.2,14.75) (-13.8,14.55) (-13.4,14.8) (-13.0,14.5) (-12.6,14.65) (-12.2,14.4) (-11.8,14.7) (-11.4,14.55) (-11.0,14.75) (-10.6,14.5) (-10.2,14.7) (-9.8,14.6) (-9.4,14.45) (-9.0,14.75) (-8.6,14.6) (-8.44,14.65) (-8.4,nan)
(-8.38,-3.3) (-8.2,-2.9) (-7.9,-2.6) (-7.5,-2.75) (-7.1,-2.55) (-6.7,-2.8) (-6.3,-2.6) (-5.9,-2.75) (-5.5,-2.5) (-5.1,-2.7) (-4.7,-2.85) (-4.3,-2.6) (-3.9,-2.7) (-3.5,-2.55) (-3.1,-2.75) (-2.7,-2.6) (-2.3,-2.8) (-1.9,-2.65) (-1.5,-2.5) (-1.1,-2.7) (-0.7,-2.6) (-0.3,-2.8) (-0.07,-3.5) (-0.02,nan)
(0.03,9.0) (0.15,11.3) (0.3,12.6) (0.5,13.6) (0.75,14.2) (1.05,14.55) (1.45,14.7) (1.85,14.5) (2.25,14.75) (2.65,14.55) (3.05,14.8) (3.45,14.5) (3.85,14.65) (4.25,14.4) (4.65,14.7) (5.05,14.55) (5.45,14.75) (5.85,14.5) (6.25,14.7) (6.65,14.6) (7.05,14.45) (7.45,14.75) (7.75,14.6) (7.9,14.65) (7.93,nan)
(7.96,-3.3) (8.15,-2.9) (8.45,-2.6) (8.85,-2.75) (9.25,-2.55) (9.65,-2.8) (10.05,-2.6) (10.45,-2.75) (10.85,-2.5) (11.25,-2.7) (11.65,-2.85) (12.05,-2.6) (12.45,-2.7) (12.85,-2.55) (13.25,-2.75) (13.65,-2.6) (14.05,-2.8) (14.45,-2.65) (14.85,-2.5) (15.25,-2.7) (15.65,-2.6) (16.05,-2.8) (16.28,-3.5) (16.33,nan)
(16.38,9.0) (16.5,11.3) (16.65,12.6) (16.85,13.6) (17.1,14.2) (17.4,14.55) (17.8,14.7) (18.2,14.5) (18.6,14.75) (19.0,14.55) (19.4,14.8) (19.8,14.5) (20.2,14.65) (20.6,14.4) (21.0,14.7) (21.4,14.55) (21.8,14.75) (22.2,14.5) (22.6,14.7) (23.0,14.6) (23.4,14.45) (23.8,14.75) (24.2,14.6) (24.38,14.65) (24.41,nan)
(24.44,-3.3) (24.6,-2.9) (24.9,-2.6) (25.3,-2.75) (25.7,-2.55) (26.1,-2.8) (26.5,-2.6) (26.9,-2.75) (27.3,-2.5) (27.7,-2.7) (28.1,-2.85) (28.5,-2.6) (28.9,-2.7) (29.3,-2.55) (29.7,-2.75) (30.0,-2.6)
};
\end{axis}

% ---------- scope markers ----------
\fill[markblue] (-0.68,4.99) -- (-0.19,4.99) -- (-0.02,5.14) -- (-0.19,5.29) -- (-0.68,5.29) -- cycle;
\node[text={rgb,255:red,255;green,170;blue,255}, font=\scopesans\bfseries\fontsize{8}{9}\selectfont, inner sep=0] at (-0.44,5.14) {\scalebox{0.8}[1]{C2}};
\filldraw[draw=cfourcol, fill=white, line width=0.6pt] (-0.68,3.95) -- (-0.19,3.95) -- (-0.02,4.10) -- (-0.19,4.25) -- (-0.68,4.25) -- cycle;
\node[text=cfourcol, font=\scopesans\bfseries\fontsize{8}{9}\selectfont, inner sep=0] at (-0.44,4.10) {\scalebox{0.8}[1]{C4}};
\filldraw[draw=cthreecol, fill=white, line width=0.6pt] (-0.68,1.90) -- (-0.19,1.90) -- (-0.02,2.05) -- (-0.19,2.20) -- (-0.68,2.20) -- cycle;
\node[text=cthreecol, font=\scopesans\bfseries\fontsize{8}{9}\selectfont, inner sep=0] at (-0.44,2.05) {\scalebox{0.8}[1]{C3}};
\fill[markblue] (21.35,5.41) -- (21.50,5.57) -- (22.03,5.57) -- (22.03,5.25) -- (21.50,5.25) -- cycle;
\node[text=white, font=\scopesans\bfseries\fontsize{6.8}{8}\selectfont, inner sep=0] at (21.77,5.41) {TL};
\fill[markblue] (10.545,10.25) -- (10.765,10.25) -- (10.655,10.03) -- cycle;
\node[text=markblue, font=\scopesans\bfseries\fontsize{10}{11}\selectfont, inner sep=0] at (10.655,9.86) {T};
\draw[markblue, line width=0.8pt] (10.56,5.417) -- (10.655,5.517) -- (10.75,5.417) -- (10.655,5.317) -- cycle;
\draw[markblue, line width=0.8pt] (10.51,5.417) -- (10.56,5.417) (10.75,5.417) -- (10.80,5.417) (10.655,5.517) -- (10.655,5.555) (10.655,5.317) -- (10.655,5.28);
\draw[trigray, line width=1.1pt, line join=miter] (10.375,0.045) -- (10.655,0.30) -- (10.935,0.045) -- cycle;

% ---------- ripple band and annotation ----------
\draw[black, line width=1.7pt, line cap=round, dash pattern=on 10.3pt off 8.1pt] (0.142,2.380) -- (21.495,2.380);
\draw[black, line width=1.7pt, line cap=round, dash pattern=on 10.3pt off 8.1pt] (0.142,1.826) -- (21.495,1.826);
\draw[black, line width=1.5pt, line cap=round, dash pattern=on 10.5pt off 6pt] (0.938,2.144) to[out=228,in=92] (0.575,1.45) to[out=272,in=168] (1.08,0.862);
\draw[black, line width=1.5pt, line cap=round, line join=miter] (1.33,0.985) -- (1.556,0.78) -- (1.33,0.575);
\node[anchor=base west, inner sep=0] at (1.79,0.55) {\timesfont\fontsize{23.5}{25}\selectfont Δ\textit{v}\raisebox{-4.5pt}{\fontsize{19}{20}\selectfont\itshape o}};

% ---------- channel names ----------
\node[anchor=base west, inner sep=0, text=labblue] at (-2.58,7.33) {\timesfont\itshape\fontsize{22}{24}\selectfont v\raisebox{-3.1pt}{\fontsize{15.5}{16}\selectfont gsM3}};
\node[anchor=base west, inner sep=0, text=labpink] at (-2.58,5.77) {\timesfont\itshape\fontsize{22}{24}\selectfont v\raisebox{-3.1pt}{\fontsize{15.5}{16}\selectfont dsM3}};
\node[anchor=base west, inner sep=0, text=labolive] at (-2.29,4.21) {\timesfont\itshape\fontsize{22}{24}\selectfont i\raisebox{-3.1pt}{\fontsize{15.5}{16}\selectfont Lr3}};
\node[anchor=base west, inner sep=0, text=labcyan] at (-2.89,2.65) {\timesfont\itshape\fontsize{22}{24}\selectfont v\raisebox{-2.8pt}{\fontsize{15.5}{16}\selectfont o\_ripple}};
\end{tikzpicture}
\end{document}
